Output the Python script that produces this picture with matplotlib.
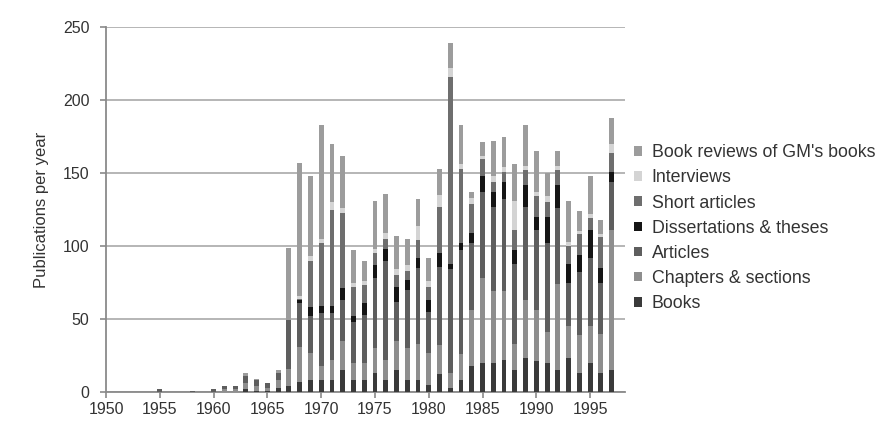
import numpy as np
import matplotlib.pyplot as plt

years = list(range(1950, 1998))

books = [0,0,0,0,0, 0,0,0,0,0, 0,0,0,2,1, 1,3,4,7,8, 8,8,15,8,8, 13,8,15,8,8,
         5,12,3,8,18, 20,20,22,15,23, 21,20,15,23,13, 20,13,15]
chapters = [0,0,0,0,0, 0,0,0,0,0, 0,2,2,4,3, 2,5,12,24,19, 10,14,20,12,12, 17,14,20,22,25,
            22,20,10,18,38, 58,49,47,18,40, 35,21,59,22,26, 25,27,96]
articles = [0,0,0,0,0, 2,0,0,1,0, 2,2,2,5,4, 3,5,33,30,25, 36,32,28,28,33, 48,68,27,40,52,
            28,54,71,71,46, 59,58,63,55,64, 55,61,52,30,43, 47,35,33]
dissertations = [0,0,0,0,0, 0,0,0,0,0, 0,0,0,0,0, 0,0,0,2,6, 5,5,8,4,8, 9,8,10,7,7,
                 8,9,4,5,7, 11,10,12,9,15, 9,18,16,13,12, 19,10,7]
short_articles = [0,0,0,0,0, 0,0,0,0,0, 0,0,0,0,0, 0,0,0,1,32, 43,66,52,20,12, 8,7,8,6,12,
                  9,32,128,51,20, 12,7,7,14,10, 14,10,10,12,14, 8,21,13]
interviews = [0,0,0,0,0, 0,0,0,0,0, 0,0,0,0,0, 0,0,0,2,3, 3,5,3,3,3, 3,4,4,4,10,
              4,8,6,3,4, 2,4,3,20,3, 3,4,3,3,2, 3,2,6]
reviews = [0,0,0,0,0, 0,0,0,0,0, 0,0,0,2,1, 0,2,50,91,55, 78,40,36,22,14, 33,27,23,18,18,
           16,18,17,27,4, 9,24,21,25,28, 28,16,10,28,14, 26,10,18]

labels = ["Books", "Chapters & sections", "Articles", "Dissertations & theses",
          "Short articles", "Interviews", "Book reviews of GM's books"]
colors = ["#3a3a3a", "#8e8e8e", "#5e5e5e", "#151515", "#6e6e6e", "#d4d4d4", "#9c9c9c"]
series = [books, chapters, articles, dissertations, short_articles, interviews, reviews]

plt.rcParams['font.family'] = ['Liberation Sans', 'DejaVu Sans']
fig = plt.figure(figsize=(8.94, 4.38), dpi=100)
ax = fig.add_axes([0.1186, 0.105, 0.58, 0.833])

# stacked bars, bottom to top
bottom = np.zeros(len(years))
for vals, lab, col in zip(series, labels, colors):
    ax.bar(years, vals, width=0.45, bottom=bottom, color=col, label=lab, zorder=3)
    bottom += np.array(vals)

ax.set_xlim(1950, 1998.2)
ax.set_ylim(0, 250)
ax.set_yticks(range(0, 251, 50))
ax.set_xticks(range(1950, 1996, 5))
ax.grid(axis='y', color='#b0b0b0', linewidth=1.3, zorder=0)
for s in ['top', 'right']:
    ax.spines[s].set_visible(False)
for s in ['left', 'bottom']:
    ax.spines[s].set_color('#8a8a8a')
    ax.spines[s].set_linewidth(1.3)
ax.tick_params(axis='both', colors='#8a8a8a', labelcolor='#333333', labelsize=11.5,
               length=4, width=1.2)
ax.tick_params(axis='y', pad=8)
ax.set_ylabel('Publications per year', fontsize=12, color='#333333', labelpad=10)

handles, labs = ax.get_legend_handles_labels()
fig.legend(handles[::-1], labs[::-1], loc='center left', bbox_to_anchor=(0.691, 0.479),
           frameon=False, fontsize=12.8, handlelength=0.45, handleheight=0.45,
           handletextpad=0.55, labelspacing=0.46, labelcolor='#333333')

fig.savefig('out.png', dpi=100)
